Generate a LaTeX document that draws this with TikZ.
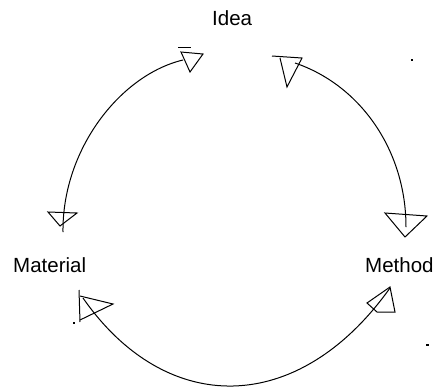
\documentclass[tikz,border=0pt]{standalone}
\usepackage{fontspec}
\setmainfont{Liberation Sans}
\begin{document}
\begin{tikzpicture}[x=1pt,y=-1pt,
  lbl/.style={inner sep=0pt, anchor=base west, font=\fontsize{20.5}{24}\selectfont},
  arcline/.style={draw=black, line width=1pt},
  headtri/.style={draw=black, line width=1pt, line join=miter},
  speck/.style={fill=black, draw=none}]
\useasboundingbox (0,0) rectangle (434,389);
% labels
\node[lbl] (idea) at (212,25) {Idea};
\node[lbl] (material) at (13,272) {Material};
\node[lbl] (method) at (365,272) {Method};
% arc end points
\coordinate (tlA) at (183,60);
\coordinate (tlB) at (63,232);
\coordinate (trA) at (295,63);
\coordinate (trB) at (406,227);
\coordinate (bA) at (83,298);
\coordinate (bB) at (390,288);
% arcs
\draw[arcline] (tlA) .. controls (120,75) and (62,150) .. (tlB);
\draw[arcline] (trA) .. controls (360,85) and (406,150) .. (trB);
\draw[arcline] (bA) .. controls (166,417) and (298,417) .. (bB);
% arrow heads: near Idea
\draw[headtri] (181,52) -- (203,54) -- (190,72) -- cycle;
\draw[headtri] (178,47) -- (191,47);
\draw[headtri] (272,56) -- (302,58) -- (287,87) -- (280,58);
% arrow heads: near Material
\draw[headtri] (48,212) -- (77,213) -- (60,226) -- cycle;
\draw[headtri] (79,290) -- (80,322);
\draw[headtri] (80,296) -- (113,304) -- (80,320);
% arrow heads: near Method
\draw[headtri] (385,213) -- (427,216) -- (405,237) -- cycle;
\draw[headtri] (377,312) -- (367,303) -- (390,287) -- (395,312) -- cycle;
% stray specks
\fill[speck] (411,59) rectangle (413,61);
\fill[speck] (426,344) rectangle (429,346);
\fill[speck] (73,322) rectangle (75,324);
\end{tikzpicture}
\end{document}
